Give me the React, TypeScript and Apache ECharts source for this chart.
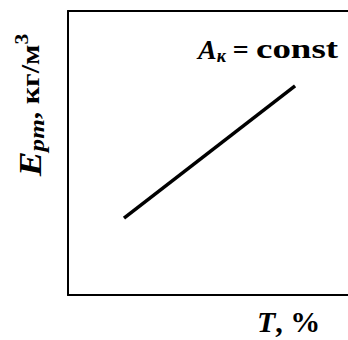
import React, { useEffect, useRef } from "react";
import * as echarts from "echarts";

const tValues: number[] = [2.0, 8.11];
const epmValues: number[] = [2.71, 7.36];
const annotationSymbol = "A_к = ";
const annotationValue = "const";
const yAxisTitle = "E_pm, кг/м³";
const xAxisTitle = "T, %";

const FONT = "'Liberation Serif', 'Times New Roman', serif";

export default function App() {
  const ref = useRef<HTMLDivElement>(null);
  useEffect(() => {
    if (!ref.current) return;
    const chart = echarts.init(ref.current, undefined, { renderer: "svg" });
    const data = tValues.map((t, i) => [t, epmValues[i]]);
    const hidden = {
      axisTick: { show: false },
      axisLabel: { show: false },
      splitLine: { show: false },
    };
    const border = { show: true, lineStyle: { color: "#000000", width: 2 } };
    chart.setOption({
      animation: false,
      backgroundColor: "#ffffff",
      grid: { left: 68, top: 11, right: 0, height: 284 },
      xAxis: [
        { type: "value", min: 0, max: 10, position: "bottom", axisLine: border, ...hidden },
        { type: "value", min: 0, max: 10, position: "top", axisLine: border, ...hidden },
      ],
      yAxis: { type: "value", min: 0, max: 10, axisLine: border, ...hidden },
      series: [
        {
          type: "line",
          data,
          symbol: "none",
          lineStyle: { color: "#000000", width: 3.5 },
        },
      ],
      graphic: [
        {
          type: "text",
          x: 198,
          y: 49,
          scaleX: 1.0,
          style: {
            text: "{a|A}{k|к}{c| =}",
            textVerticalAlign: "middle",
            rich: {
              a: { fontFamily: FONT, fontSize: 28, lineHeight: 32, fontWeight: "bold", fontStyle: "italic", fill: "#000" },
              k: { fontFamily: FONT, fontSize: 18, lineHeight: 18, fontWeight: "bold", fontStyle: "italic", fill: "#000", verticalAlign: "bottom" },
              c: { fontFamily: FONT, fontSize: 28, lineHeight: 32, fontWeight: "bold", fill: "#000" },
            },
          },
        },
        {
          type: "text",
          x: 256,
          y: 49,
          scaleX: 1.32,
          style: {
            text: annotationValue,
            textVerticalAlign: "middle",
            fontFamily: FONT,
            fontSize: 28,
            fontWeight: "bold",
            fill: "#000",
          },
        },
        {
          type: "text",
          x: 30,
          y: 105,
          rotation: Math.PI / 2,
          scaleX: 1.2,
          style: {
            text: "{e|E}{s|pm}{c|, кг/м}{p|3}",
            textAlign: "center",
            textVerticalAlign: "middle",
            rich: {
              e: { fontFamily: FONT, fontSize: 31, lineHeight: 34, fontWeight: "bold", fontStyle: "italic", fill: "#000" },
              s: { fontFamily: FONT, fontSize: 21, lineHeight: 21, fontWeight: "bold", fontStyle: "italic", fill: "#000", verticalAlign: "bottom" },
              c: { fontFamily: FONT, fontSize: 25, lineHeight: 34, fontWeight: "bold", fill: "#000" },
              p: { fontFamily: FONT, fontSize: 18, lineHeight: 18, fontWeight: "bold", fill: "#000", verticalAlign: "top" },
            },
          },
        },
        {
          type: "text",
          x: 257,
          y: 321,
          scaleX: 1.0,
          style: {
            text: "{t|T}{c|, %}",
            textVerticalAlign: "middle",
            rich: {
              t: { fontFamily: FONT, fontSize: 30, fontWeight: "bold", fontStyle: "italic", fill: "#000" },
              c: { fontFamily: FONT, fontSize: 30, fontWeight: "bold", fill: "#000" },
            },
          },
        },
      ],
    });
    return () => chart.dispose();
  }, []);
  return (
    <div
      ref={ref}
      style={{ position: "absolute", left: 0, top: 0, width: 348, height: 340 }}
    />
  );
}
